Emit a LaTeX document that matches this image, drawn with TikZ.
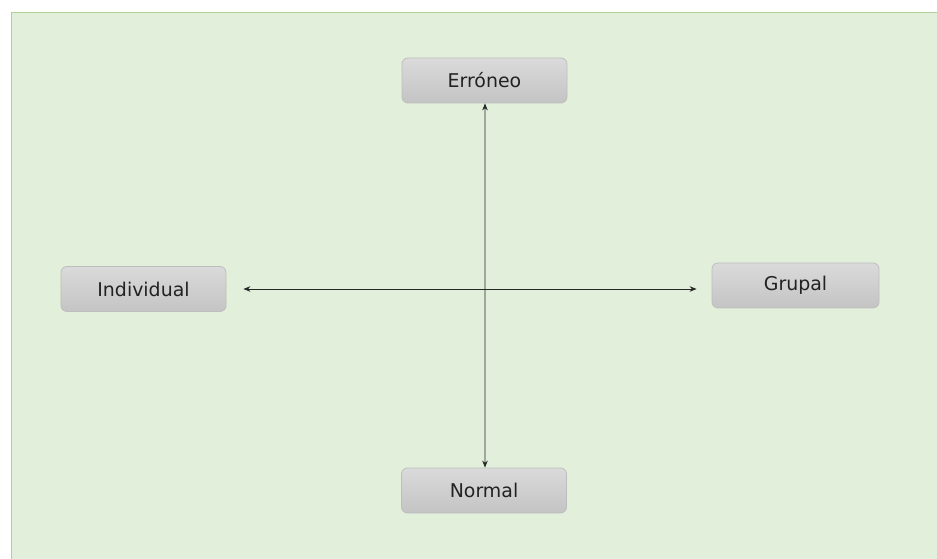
\documentclass[tikz,border=0pt]{standalone}
\usepackage{fontspec}
\setmainfont{DejaVu Sans}
\usetikzlibrary{arrows.meta}
\definecolor{panelfill}{HTML}{E2EFDA}
\definecolor{panelline}{HTML}{ADD196}
\definecolor{boxtop}{HTML}{DADADA}
\definecolor{boxbot}{HTML}{C4C4C4}
\definecolor{boxline}{HTML}{BEBEBE}
\definecolor{labeltext}{HTML}{222222}
\tikzset{
  pole/.style={rectangle, rounded corners=6bp, draw=boxline, line width=0.8bp,
    top color=boxtop, bottom color=boxbot, minimum width=165bp, minimum height=45bp,
    inner sep=0pt, text=labeltext, font=\fontsize{19}{22}\selectfont},
  axis/.style={draw=black!85, line width=0.9bp,
    {Stealth[length=7bp,width=5.5bp]}-{Stealth[length=7bp,width=5.5bp]}}
}
\begin{document}
\begin{tikzpicture}[x=1bp,y=-1bp]
  \useasboundingbox (0,0) rectangle (937,559);
  % background panel (right and bottom edges run off the page)
  \fill[white] (0,0) rectangle (937,559);
  \draw[panelline, fill=panelfill, line width=1.3bp] (11.5,12.5) rectangle (945,570);
  % the four poles
  \node[pole] (err) at (484.5,80.5) {Erróneo};
  \node[pole] (ind) at (143.5,289) {Individual};
  \node[pole, minimum width=167bp] (gru) at (795.5,285.5) {Grupal};
  \node[pole] (nor) at (484,490.5) {Normal};
  % axes
  \draw[axis] ([xshift=0.5bp]err.south) -- ([xshift=1bp]nor.north);
  \draw[axis, shorten <=17bp, shorten >=15bp] (ind.east) -- (ind.east -| gru.west);
\end{tikzpicture}
\end{document}
